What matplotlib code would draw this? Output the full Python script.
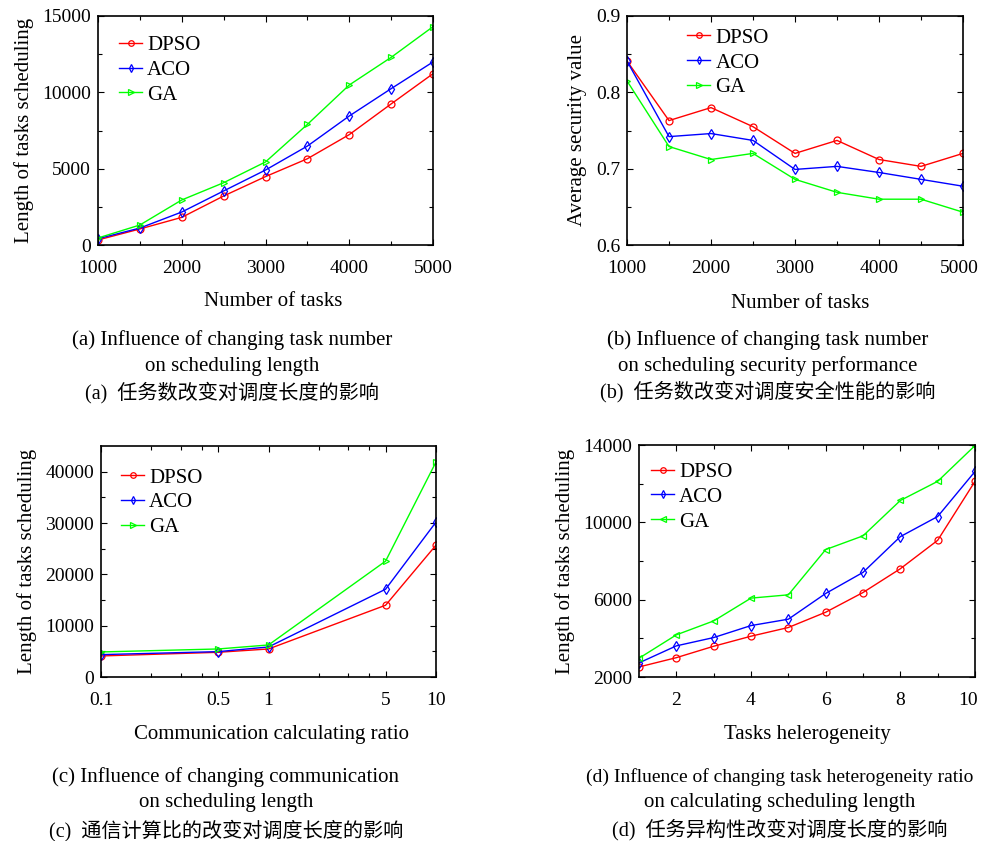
import matplotlib
matplotlib.use('Agg')
import matplotlib.pyplot as plt
from matplotlib.ticker import FixedLocator, NullFormatter
from matplotlib.transforms import ScaledTranslation

plt.rcParams['font.family'] = ['Liberation Serif', 'DejaVu Serif']

# (a) task number vs scheduling length
tasks = [1000, 1500, 2000, 2500, 3000, 3500, 4000, 4500, 5000]
a_dpso = [330, 1050, 1810, 3210, 4480, 5650, 7230, 9240, 11220]
a_aco = [410, 1110, 2160, 3540, 4910, 6480, 8450, 10240, 11990]
a_ga = [460, 1310, 2950, 4080, 5440, 7900, 10480, 12290, 14300]

# (b) task number vs security value
b_dpso = [0.841, 0.763, 0.780, 0.755, 0.720, 0.737, 0.712, 0.703, 0.720]
b_aco = [0.841, 0.742, 0.746, 0.737, 0.699, 0.703, 0.695, 0.686, 0.677]
b_ga = [0.815, 0.729, 0.712, 0.720, 0.686, 0.669, 0.660, 0.660, 0.643]

# (c) communication / calculation ratio
ccr = [0.1, 0.5, 1, 5, 10]
c_dpso = [4100, 4810, 5460, 13980, 25690]
c_aco = [4360, 4940, 5850, 17100, 30180]
c_ga = [4880, 5460, 6240, 22570, 41890]

# (d) task heterogeneity
het = [1, 2, 3, 4, 5, 6, 7, 8, 9, 10]
d_dpso = [2520, 3000, 3590, 4110, 4560, 5350, 6370, 7600, 9070, 12120]
d_aco = [2730, 3610, 4040, 4660, 4990, 6320, 7410, 9260, 10300, 12630]
d_ga = [2970, 4180, 4900, 6080, 6250, 8590, 9300, 11130, 12120, 13970]

labels = ['DPSO', 'ACO', 'GA']
colors = ['#ff0000', '#0000ff', '#00ff00']

W, H = 981, 841
fig = plt.figure(figsize=(W / 100, H / 100), dpi=100)


def px_axes(l, t, r, b):
    return fig.add_axes([l / W, 1 - b / H, (r - l) / W, (b - t) / H])


def draw(ax, x, series, markers, leg_xy):
    for ys, lab, c, m in zip(series, labels, colors, markers):
        ax.plot(x, ys, color=c, lw=1.0, marker=m, ms=5, mfc='none',
                mec=c, mew=0.9, label=lab)
    ax.tick_params(direction='in', top=True, right=True, labelsize=14,
                   length=4, width=0.8)
    ax.tick_params(axis='x', pad=11)
    ax.tick_params(axis='y', pad=5)
    ax.tick_params(which='minor', direction='in', top=True, right=True,
                   length=3, width=0.8)
    for s in ax.spines.values():
        s.set_linewidth(1.2)
    ax.legend(loc='upper left', bbox_to_anchor=leg_xy, frameon=False,
              fontsize=15, handlelength=1.1, handletextpad=0.25,
              labelspacing=0.25, borderaxespad=0, borderpad=0,
              markerscale=0.8)


def nudge_last_xlabel(ax, dx_px):
    lab = ax.get_xticklabels()[-1]
    lab.set_transform(lab.get_transform() +
                      ScaledTranslation(dx_px / 100, 0, fig.dpi_scale_trans))


def caption(cx, ys, lines):
    for y, (txt, fam, size) in zip(ys, lines):
        fig.text(cx / W, 1 - y / H, txt, ha='center', va='center',
                 fontsize=size, family=fam)


cjk = ['Liberation Serif', 'Noto Sans CJK SC']
ser = ['Liberation Serif']

# panel a
ax = px_axes(98, 16, 433, 245)
draw(ax, tasks, [a_dpso, a_aco, a_ga], ['o', 'd', '>'], (0.063, 0.915))
ax.set_xlim(1000, 5000)
ax.set_ylim(0, 15000)
ax.set_xticks([1000, 2000, 3000, 4000, 5000])
ax.xaxis.set_minor_locator(FixedLocator([1500, 2500, 3500, 4500]))
ax.set_yticks([0, 5000, 10000, 15000])
ax.yaxis.set_minor_locator(FixedLocator([2500, 7500, 12500]))
ax.set_ylabel('Length of tasks scheduling', fontsize=15, labelpad=6)
fig.text(273 / W, 1 - 302 / H, 'Number of tasks', ha='center', va='center', fontsize=15)
caption(232, [340, 366, 393],
        [('(a) Influence of changing task number', ser, 15),
         ('on scheduling length', ser, 15),
         ('(a)  任务数改变对调度长度的影响', cjk, 14.5)])

# panel b
ax = px_axes(627, 16, 963, 245)
draw(ax, tasks, [b_dpso, b_aco, b_ga], ['o', 'd', '>'], (0.18, 0.947))
ax.set_xlim(1000, 5000)
ax.set_ylim(0.6, 0.9)
ax.set_xticks([1000, 2000, 3000, 4000, 5000])
ax.xaxis.set_minor_locator(FixedLocator([1500, 2500, 3500, 4500]))
ax.set_yticks([0.6, 0.7, 0.8, 0.9])
ax.set_yticklabels(['0.6', '0.7', '0.8', '0.9'])
ax.yaxis.set_minor_locator(FixedLocator([0.65, 0.75, 0.85]))
ax.set_ylabel('Average security value', fontsize=15, labelpad=6)
nudge_last_xlabel(ax, -4)
fig.text(800 / W, 1 - 303 / H, 'Number of tasks', ha='center', va='center', fontsize=15)
caption(768, [340, 366, 392],
        [('(b) Influence of changing task number', ser, 15),
         ('on scheduling security performance', ser, 15),
         ('(b)  任务数改变对调度安全性能的影响', cjk, 14.5)])

# panel c
ax = px_axes(101, 446, 436, 677)
draw(ax, ccr, [c_dpso, c_aco, c_ga], ['o', 'd', '>'], (0.06, 0.905))
ax.set_xscale('log')
ax.set_xlim(0.1, 10)
ax.set_ylim(0, 45000)
ax.xaxis.set_major_locator(FixedLocator([0.1, 0.5, 1, 5, 10]))
ax.xaxis.set_minor_locator(FixedLocator([0.2, 0.3, 0.4, 2, 3, 4]))
ax.xaxis.set_minor_formatter(NullFormatter())
ax.set_xticklabels(['0.1', '0.5', '1', '5', '10'])
ax.set_yticks([0, 10000, 20000, 30000, 40000])
ax.yaxis.set_minor_locator(FixedLocator([5000, 15000, 25000, 35000]))
ax.set_ylabel('Length of tasks scheduling', fontsize=15, labelpad=6)
fig.text(271 / W, 1 - 735 / H, 'Communication calculating ratio', ha='center', va='center', fontsize=15)
caption(226, [777, 803, 831],
        [('(c) Influence of changing communication', ser, 15),
         ('on scheduling length', ser, 15),
         ('(c)  通信计算比的改变对调度长度的影响', cjk, 14.5)])

# panel d
ax = px_axes(639, 445, 975, 677)
draw(ax, het, [d_dpso, d_aco, d_ga], ['o', 'd', '<'], (0.036, 0.925))
ax.set_xlim(1, 10)
ax.set_ylim(2000, 14000)
ax.set_xticks([2, 4, 6, 8, 10])
ax.xaxis.set_minor_locator(FixedLocator([3, 5, 7, 9]))
ax.set_yticks([2000, 6000, 10000, 14000])
ax.yaxis.set_minor_locator(FixedLocator([4000, 8000, 12000]))
ax.set_ylabel('Length of tasks scheduling', fontsize=15, labelpad=6)
nudge_last_xlabel(ax, -7)
fig.text(807 / W, 1 - 735 / H, 'Tasks helerogeneity', ha='center', va='center', fontsize=15)
caption(780, [777, 803, 830],
        [('(d) Influence of changing task heterogeneity ratio', ser, 14),
         ('on calculating scheduling length', ser, 15),
         ('(d)  任务异构性改变对调度长度的影响', cjk, 14.5)])

fig.savefig('out.png', dpi=100, facecolor='white')
